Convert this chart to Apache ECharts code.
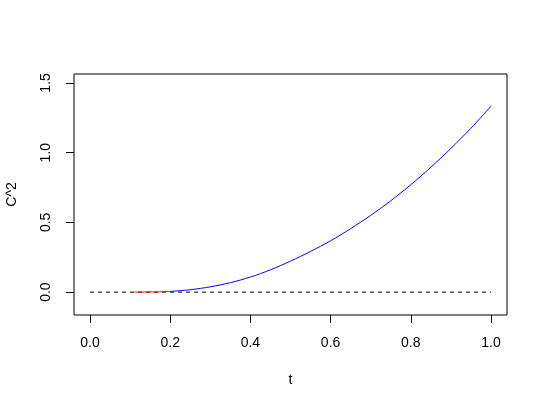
<!DOCTYPE html>
<html>
<head>
<meta charset="utf-8">
<script src="https://cdn.jsdelivr.net/npm/echarts@6/dist/echarts.min.js"></script>
<style>
  html, body { margin: 0; padding: 0; background: #fff; }
  #chart { width: 545px; height: 407px; }
</style>
</head>
<body>
<div id="chart"></div>
<script>
// values
const tRed = [0.11, 0.14, 0.17, 0.2]
const c2Red = [0.0, 0.001, 0.002, 0.005]
const tBlue = [0.2, 0.25, 0.3, 0.35, 0.4, 0.45, 0.5, 0.55, 0.6, 0.65, 0.7, 0.75, 0.8, 0.85, 0.9, 0.95, 1.0]
const c2Blue = [0.005, 0.017, 0.038, 0.068, 0.108, 0.16, 0.222, 0.292, 0.368, 0.455, 0.55, 0.655, 0.77, 0.895, 1.03, 1.175, 1.333]
const tZero = [0, 1]
const c2Zero = [0, 0]
const xTicks = [0, 0.2, 0.4, 0.6, 0.8, 1.0]
const yTicks = [0, 0.5, 1.0, 1.5]

const zip = (a, b) => a.map((v, i) => [v, b[i]])
const font = 'Liberation Sans, Arial, sans-serif'

const chart = echarts.init(document.getElementById('chart'))
chart.setOption({
  animation: false,
  grid: {
    left: 74, right: 38, top: 74, bottom: 92, outerBoundsMode: 'none',
    show: true, borderColor: '#000', borderWidth: 1, backgroundColor: 'transparent'
  },
  xAxis: {
    type: 'value', min: -0.04, max: 1.04,
    name: 't', nameLocation: 'middle', nameGap: 58,
    nameTextStyle: { color: '#000', fontSize: 14, fontFamily: font },
    axisLine: { show: false, onZero: false },
    axisTick: { show: true, inside: false, length: 8, customValues: xTicks, lineStyle: { color: '#000' } },
    axisLabel: { color: '#000', fontSize: 14, fontFamily: font, margin: 21, customValues: xTicks, formatter: v => v.toFixed(1) },
    splitLine: { show: false }
  },
  yAxis: {
    type: 'value', min: -0.164, max: 1.564,
    name: 'C^2', nameLocation: 'middle', nameGap: 55,
    nameTextStyle: { color: '#000', fontSize: 14, fontFamily: font },
    axisLine: { show: false, onZero: false },
    axisTick: { show: true, inside: false, length: 8, customValues: yTicks, lineStyle: { color: '#000' } },
    axisLabel: { color: '#000', fontSize: 14, fontFamily: font, margin: 21, rotate: 90, customValues: yTicks, formatter: v => v.toFixed(1) },
    splitLine: { show: false }
  },
  series: [
    {
      type: 'line', data: zip(tZero, c2Zero), showSymbol: false, silent: true,
      lineStyle: { color: '#000', width: 1, type: [4, 4] }
    },
    {
      type: 'line', data: zip(tRed, c2Red), showSymbol: false, smooth: 0.3, silent: true,
      lineStyle: { color: '#ff0000', width: 1 }
    },
    {
      type: 'line', data: zip(tBlue, c2Blue), showSymbol: false, smooth: 0.3, silent: true,
      lineStyle: { color: '#0000ff', width: 1 }
    }
  ]
})
</script>
</body>
</html>
